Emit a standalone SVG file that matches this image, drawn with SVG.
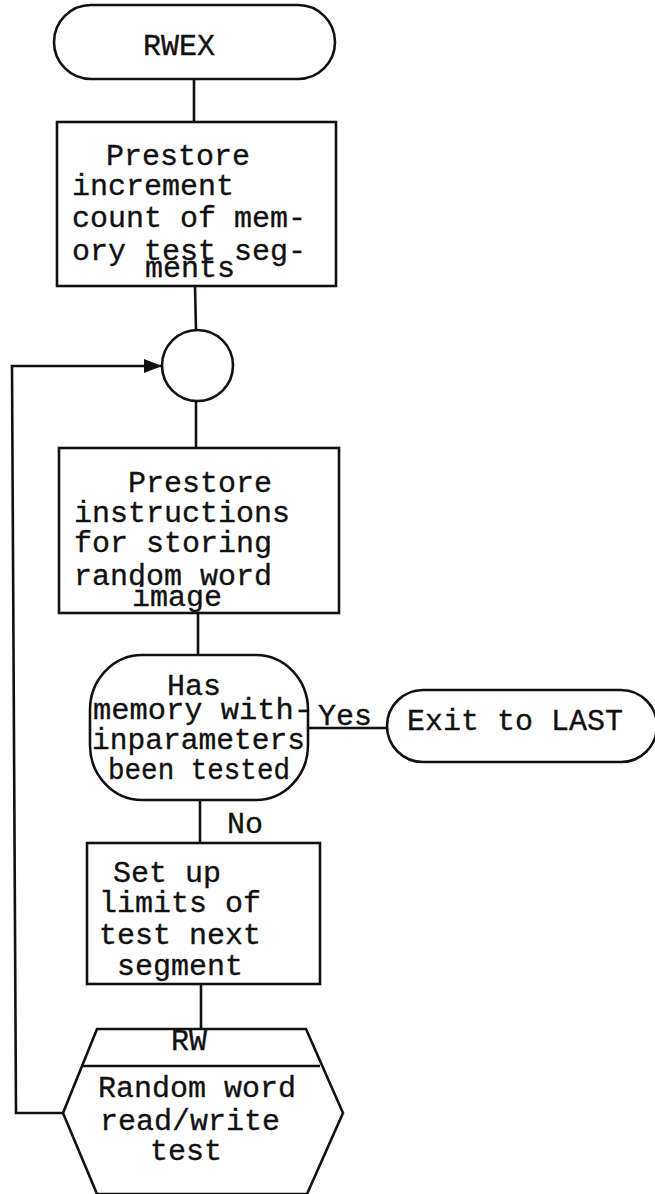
<svg xmlns="http://www.w3.org/2000/svg" width="655" height="1194" viewBox="0 0 655 1194">
<style>
.s{fill:#fff;stroke:#111;stroke-width:2.6}
.c{fill:none;stroke:#111;stroke-width:2.6}
text{font-family:"Liberation Mono","Courier New",monospace;font-size:30px;fill:#111;stroke:#111;stroke-width:0.35}
</style>
<defs>
<marker id="ah" viewBox="0 0 18 14" refX="18" refY="7" markerWidth="18" markerHeight="14" markerUnits="userSpaceOnUse" orient="auto">
<path d="M0,0 L18,7 L0,14 Z" fill="#111"/>
</marker>
</defs>
<rect width="655" height="1194" fill="#fff"/>
<g id="connectors">
<line class="c" x1="194" y1="79" x2="194" y2="122"/>
<line class="c" x1="195" y1="286" x2="196" y2="330"/>
<line class="c" x1="196" y1="401" x2="196" y2="448"/>
<line class="c" x1="198" y1="613" x2="198" y2="655"/>
<line class="c" x1="307" y1="728" x2="387" y2="728"/>
<line class="c" x1="200" y1="800" x2="200" y2="843"/>
<line class="c" x1="201" y1="984" x2="201" y2="1029"/>
<polyline class="c" points="63,1113 16,1113 12,366 162,366" marker-end="url(#ah)"/>
<text x="318" y="725">Yes</text>
<text x="227" y="833">No</text>
</g>
<g id="rwex">
<rect class="s" x="54" y="5" width="281" height="74" rx="37"/>
<text x="143" y="55">RWEX</text>
</g>
<g id="box1">
<rect class="s" x="57" y="122" width="279" height="164"/>
<text x="106" y="165">Prestore</text>
<text x="72" y="195">increment</text>
<text x="72" y="227">count of mem-</text>
<text x="72" y="260">ory test seg-</text>
<text x="145" y="277">ments</text>
</g>
<g id="connector-circle">
<circle class="s" cx="197.5" cy="365.5" r="35.5"/>
</g>
<g id="box2">
<rect class="s" x="59" y="448" width="280" height="165"/>
<text x="128" y="492">Prestore</text>
<text x="74" y="522">instructions</text>
<text x="74" y="552">for storing</text>
<text x="74" y="585">random word</text>
<text x="132" y="606">image</text>
</g>
<g id="decision">
<rect class="s" x="90" y="655" width="218" height="145" rx="52" ry="55"/>
<text x="167" y="695">Has</text>
<text x="93" y="719" textLength="219" lengthAdjust="spacingAndGlyphs">memory with-</text>
<text x="92" y="749" textLength="213" lengthAdjust="spacingAndGlyphs">inparameters</text>
<text x="108" y="779" textLength="182" lengthAdjust="spacingAndGlyphs">been tested</text>
</g>
<g id="exit">
<rect class="s" x="387" y="690" width="270" height="72" rx="36"/>
<text x="407" y="730">Exit to LAST</text>
</g>
<g id="box3">
<rect class="s" x="87" y="843" width="233" height="141"/>
<text x="113" y="882">Set up</text>
<text x="99" y="912">limits of</text>
<text x="99" y="944">test next</text>
<text x="117" y="975">segment</text>
</g>
<g id="rw">
<polygon class="s" points="97,1029 306,1029 343,1113 307,1194 97,1194 63,1113"/>
<line class="c" x1="83" y1="1066" x2="320" y2="1066"/>
<text x="171" y="1050" font-size="28">RW</text>
<text x="98" y="1097">Random word</text>
<text x="100" y="1130">read/write</text>
<text x="150" y="1160">test</text>
</g>
</svg>
